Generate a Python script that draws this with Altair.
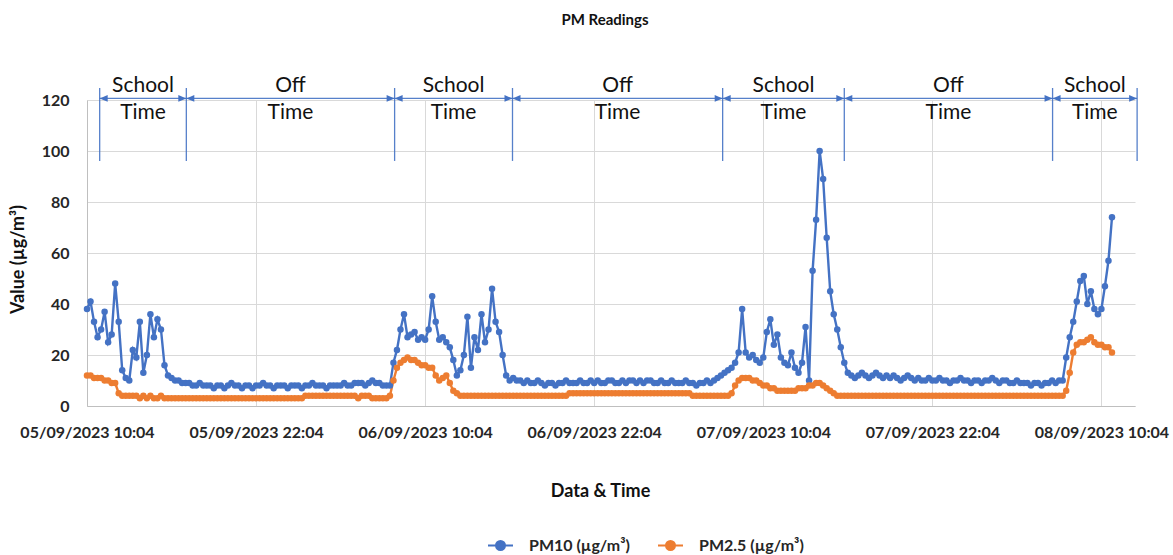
import altair as alt
import pandas as pd

# Sensor readings at 15-minute intervals starting 05/09/2023 10:04
START = "05/09/2023 10:04"
END = "08/09/2023 12:27"
STEP_MIN = 15

pm10 = [
    38, 41, 33, 27, 30, 37, 25, 28, 48, 33, 14, 11,
    10, 22, 19, 33, 13, 20, 36, 27, 34, 30, 16, 12,
    11, 10, 10, 9, 9, 9, 8, 8, 9, 8, 8, 8,
    7, 8, 8, 7, 8, 9, 8, 8, 7, 8, 8, 7,
    8, 8, 9, 8, 8, 7, 8, 8, 8, 7, 8, 8,
    8, 7, 8, 8, 9, 8, 8, 8, 7, 8, 8, 8,
    8, 9, 8, 8, 9, 9, 9, 8, 9, 10, 9, 9,
    8, 8, 8, 17, 22, 30, 36, 27, 28, 29, 26, 27,
    26, 30, 43, 33, 26, 27, 25, 23, 18, 12, 14, 20,
    35, 15, 27, 22, 36, 25, 30, 46, 33, 29, 20, 12,
    10, 11, 10, 10, 9, 10, 9, 9, 10, 9, 8, 9,
    9, 8, 9, 9, 10, 9, 9, 9, 10, 9, 9, 10,
    9, 10, 9, 9, 10, 10, 9, 9, 10, 9, 10, 10,
    9, 10, 9, 10, 10, 9, 9, 10, 9, 9, 10, 9,
    9, 9, 10, 9, 9, 8, 9, 9, 10, 9, 10, 11,
    12, 13, 14, 15, 17, 21, 38, 21, 19, 20, 18, 17,
    19, 29, 34, 24, 28, 19, 17, 16, 21, 15, 13, 17,
    31, 10, 53, 73, 100, 89, 66, 45, 36, 30, 23, 17,
    13, 12, 11, 12, 13, 12, 11, 12, 13, 12, 11, 12,
    11, 12, 11, 10, 11, 12, 11, 10, 11, 10, 10, 11,
    10, 10, 11, 10, 10, 9, 10, 10, 11, 10, 10, 9,
    10, 10, 9, 10, 10, 11, 10, 9, 10, 10, 9, 9,
    10, 9, 9, 9, 8, 9, 9, 8, 9, 9, 10, 9,
    10, 10, 19, 27, 33, 41, 49, 51, 40, 45, 38, 36,
    38, 47, 57, 74,
]

pm25 = [
    12, 12, 11, 11, 11, 10, 10, 9, 9, 5, 4, 4,
    4, 4, 4, 3, 4, 3, 4, 3, 3, 4, 3, 3,
    3, 3, 3, 3, 3, 3, 3, 3, 3, 3, 3, 3,
    3, 3, 3, 3, 3, 3, 3, 3, 3, 3, 3, 3,
    3, 3, 3, 3, 3, 3, 3, 3, 3, 3, 3, 3,
    3, 3, 4, 4, 4, 4, 4, 4, 4, 4, 4, 4,
    4, 4, 4, 4, 4, 3, 4, 4, 4, 3, 3, 3,
    3, 3, 4, 10, 15, 17, 18, 19, 18, 18, 17, 16,
    16, 15, 15, 12, 10, 11, 12, 9, 6, 5, 4, 4,
    4, 4, 4, 4, 4, 4, 4, 4, 4, 4, 4, 4,
    4, 4, 4, 4, 4, 4, 4, 4, 4, 4, 4, 4,
    4, 4, 4, 4, 4, 5, 5, 5, 5, 5, 5, 5,
    5, 5, 5, 5, 5, 5, 5, 5, 5, 5, 5, 5,
    5, 5, 5, 5, 5, 5, 5, 5, 5, 5, 5, 5,
    5, 5, 5, 5, 4, 4, 4, 4, 4, 4, 4, 4,
    4, 4, 4, 5, 8, 10, 11, 11, 11, 10, 10, 9,
    8, 8, 7, 7, 6, 6, 6, 6, 6, 6, 7, 7,
    7, 8, 8, 9, 9, 8, 7, 6, 5, 4, 4, 4,
    4, 4, 4, 4, 4, 4, 4, 4, 4, 4, 4, 4,
    4, 4, 4, 4, 4, 4, 4, 4, 4, 4, 4, 4,
    4, 4, 4, 4, 4, 4, 4, 4, 4, 4, 4, 4,
    4, 4, 4, 4, 4, 4, 4, 4, 4, 4, 4, 4,
    4, 4, 4, 4, 4, 4, 4, 4, 4, 4, 4, 4,
    4, 4, 6, 13, 21, 24, 25, 25, 26, 27, 25, 24,
    24, 23, 23, 21,
]

series_names = ["PM10 (µg/m³)", "PM2.5 (µg/m³)"]
series_colors = ["#4472C4", "#ED7D31"]

tick_labels = [
    "05/09/2023 10:04", "05/09/2023 22:04", "06/09/2023 10:04",
    "06/09/2023 22:04", "07/09/2023 10:04", "07/09/2023 22:04",
    "08/09/2023 10:04",
]
y_ticks = [0, 20, 40, 60, 80, 100, 120]

# School / off-time periods marked above the plot
period_bounds = [
    "05/09/2023 10:58", "05/09/2023 17:07", "06/09/2023 07:54",
    "06/09/2023 16:16", "07/09/2023 07:11", "07/09/2023 15:49",
    "08/09/2023 06:36", "08/09/2023 12:36",
]
period_labels = ["School", "Off", "School", "Off", "School", "Off", "School"]

FMT = "%d/%m/%Y %H:%M"
X_TITLE = "Data & Time"
Y_TITLE = "Value (µg/m³)"


def to_ms(s):
    return int(pd.to_datetime(s, format=FMT, utc=True).value // 10**6)


t0 = to_ms(START)
t_end = to_ms(END)
step = STEP_MIN * 60 * 1000

rows = []
for name, vals in zip(series_names, [pm10, pm25]):
    for i, v in enumerate(vals):
        rows.append({"t": t0 + i * step, "value": v, "series": name})
df = pd.DataFrame(rows)

bounds_df = pd.DataFrame({"t": [to_ms(s) for s in period_bounds]})
seg_df = pd.DataFrame({
    "start": [to_ms(s) for s in period_bounds[:-1]],
    "end": [to_ms(s) for s in period_bounds[1:]],
    "label": period_labels,
})

FONT = "Lato"
BLUE = "#4472C4"

x_scale = alt.Scale(type="utc", domain=[t0, t_end], nice=False)
y_scale = alt.Scale(domain=[0, 120], nice=False)

x_axis = alt.Axis(
    values=[to_ms(s) for s in tick_labels],
    labelExpr=f"utcFormat(datum.value, '{FMT}')",
    labelFlush=False, labelOverlap=False, labelPadding=18,
    titleY=85, titleX=513, titleBaseline="middle",
)
y_axis = alt.Axis(
    values=y_ticks, labelPadding=18,
    titleX=-69, titleY=159, titleBaseline="middle",
)

legend_path = ("M-1,0H1M-0.36,0a0.36,0.36 0 1,0 0.72,0"
               "a0.36,0.36 0 1,0 -0.72,0Z")


def xe(field):
    return alt.X(field, scale=x_scale, title=X_TITLE, axis=x_axis)


def ye(field):
    return alt.Y(field, scale=y_scale, title=Y_TITLE, axis=y_axis)


lines = alt.Chart(df).mark_line(
    strokeWidth=2.4,
    point=alt.OverlayMarkDef(filled=True, size=42, opacity=1),
).encode(
    x=xe("t:T"),
    y=ye("value:Q"),
    color=alt.Color("series:N",
                    scale=alt.Scale(domain=series_names, range=series_colors),
                    legend=alt.Legend(
                        title=None, orient="none", direction="horizontal",
                        legendX=400, legendY=432,
                        symbolType=legend_path, symbolSize=625,
                        symbolStrokeWidth=2,
                        labelFont=FONT, labelFontSize=16,
                        labelFontWeight="bold", labelColor="#262626",
                        labelOffset=15, columnPadding=24)),
    order=alt.Order("t:Q"),
)

bound_rules = alt.Chart(bounds_df).mark_rule(
    color=BLUE, strokeWidth=1.3, opacity=0.9
).encode(
    x=xe("t:T"), y=ye("y1:Q"), y2="y2:Q",
).transform_calculate(y1="96.1", y2="124.7")

arrow_rules = alt.Chart(seg_df).mark_rule(
    color=BLUE, strokeWidth=1.3, opacity=0.9
).encode(
    x=xe("start:T"), x2="end:T", y=ye("ay:Q"),
).transform_calculate(ay="120.6")

left_heads = alt.Chart(seg_df).mark_point(
    shape="M0,0L1,-0.42L1,0.42Z", size=256, filled=True,
    color=BLUE, opacity=1
).encode(
    x=xe("start:T"), y=ye("ay:Q"),
).transform_calculate(ay="120.6")

right_heads = alt.Chart(seg_df).mark_point(
    shape="M0,0L-1,-0.42L-1,0.42Z", size=256, filled=True,
    color=BLUE, opacity=1
).encode(
    x=xe("end:T"), y=ye("ay:Q"),
).transform_calculate(ay="120.6")

top_words = alt.Chart(seg_df).mark_text(
    font=FONT, fontSize=21, color="#111111", baseline="middle"
).encode(
    x=xe("mid:T"), y=ye("ty:Q"), text="label:N",
).transform_calculate(mid="(datum.start + datum.end) / 2", ty="125.4")

time_words = alt.Chart(seg_df).mark_text(
    font=FONT, fontSize=21, color="#111111", baseline="middle"
).encode(
    x=xe("mid:T"), y=ye("ty:Q"), text=alt.value("Time"),
).transform_calculate(mid="(datum.start + datum.end) / 2", ty="114.9")

chart = alt.layer(
    lines, bound_rules, arrow_rules, left_heads, right_heads,
    top_words, time_words,
).properties(
    width=1048,
    height=306,
    autosize=alt.AutoSizeParams(type="none"),
    padding={"left": 87, "top": 100, "right": 38, "bottom": 149},
    title=alt.Title("PM Readings", font=FONT, fontSize=15,
                    fontWeight="bold", color="#111111",
                    anchor="middle", dx=-6, offset=47),
).configure_view(
    stroke=None
).configure_axis(
    labelFont=FONT, labelFontSize=16, labelFontWeight="bold",
    labelColor="#262626", titleFont=FONT, titleFontSize=18,
    titleFontWeight="bold", titleColor="#111111",
    gridColor="#d9d9d9", gridWidth=1, domainColor="#bfbfbf",
    ticks=False,
)

chart.save("out.html", embed_options={"renderer": "svg", "actions": False})
